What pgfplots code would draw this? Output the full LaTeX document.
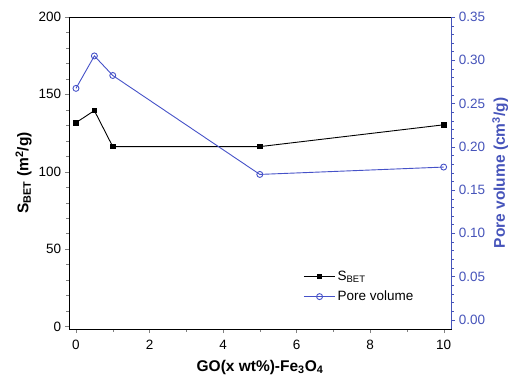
\documentclass[border=0pt]{standalone}
\usepackage{fontspec}
\setmainfont{Liberation Sans}
\usepackage{pgfplots}
\pgfplotsset{compat=1.18}
\definecolor{pvblue}{RGB}{70,84,186}
\definecolor{pvline}{RGB}{70,82,200}

\pgfplotstableread{
x y
0 131.7
0.5 139.5
1 116.2
5 116.2
10 130.3
}\sbet
\pgfplotstableread{
x y
0 0.2675
0.5 0.305
1 0.2824
5 0.168
10 0.1765
}\porevol

\begin{document}
\begin{tikzpicture}
\useasboundingbox (-69pt,-49pt) rectangle (442pt,329pt);
\pgfplotsset{
  every axis/.append style={
    scale only axis, width=382pt, height=312pt,
    at={(0,0)}, anchor=south west,
    xmin=-0.19, xmax=10.2,
    tick align=outside,
    major tick length=4pt, minor tick length=2.5pt,
    tick label style={font=\fontsize{13.5}{15}\selectfont},
    label style={font=\fontsize{15.5}{17}\selectfont\bfseries},
    /pgf/number format/assume math mode=true,
    line width=0.9pt,
  },
  legend image code/.code={%
    \draw[mark repeat=2,mark phase=2] plot coordinates {(0cm,0cm)(0.55cm,0cm)(1.1cm,0cm)};}
}
\begin{axis}[
  ymin=-1.7, ymax=200,
  xtick pos=bottom, ytick pos=left,
  xtick={0,2,4,6,8,10}, minor x tick num=1,
  ytick={0,50,100,150,200}, minor y tick num=4,
  xticklabel style={yshift=-3pt},
  xlabel={GO(x wt\%)-Fe\textsubscript{3}O\textsubscript{4}},
  ylabel={S\textsubscript{BET} (m\textsuperscript{2}/g)},
  xlabel style={yshift=-3.5pt},
]
\addplot[black, line width=0.9pt, mark=square*, mark size=2.3pt] table[x=x,y=y]{\sbet};
\end{axis}
\begin{axis}[
  ymin=-0.0107, ymax=0.35,
  axis x line=none, axis y line*=right,
  ytick={0,0.05,0.10,0.15,0.20,0.25,0.30,0.35}, minor y tick num=4,
  yticklabel style={/pgf/number format/fixed, /pgf/number format/fixed zerofill, /pgf/number format/precision=2, text=pvblue},
  y axis line style={pvblue},
  every y tick/.style={pvblue},
  every minor y tick/.style={pvblue},
  ylabel={Pore volume (cm\textsuperscript{3}/g)},
  ylabel style={text=pvblue},
  legend style={at={(0.61,0.2)}, anchor=north west, draw=none, fill=none,
    font=\fontsize{13.5}{15}\selectfont, row sep=5pt, cells={anchor=west},
    inner xsep=1pt},
]
\addlegendimage{black, line width=0.9pt, mark=square*, mark size=2.3pt}
\addlegendentry{S\textsubscript{BET}}
\addplot[pvline, line width=0.9pt, mark=o, mark size=3pt, mark options={fill=white}] table[x=x,y=y]{\porevol};
\addlegendentry{Pore volume}
\end{axis}
\end{tikzpicture}
\end{document}
